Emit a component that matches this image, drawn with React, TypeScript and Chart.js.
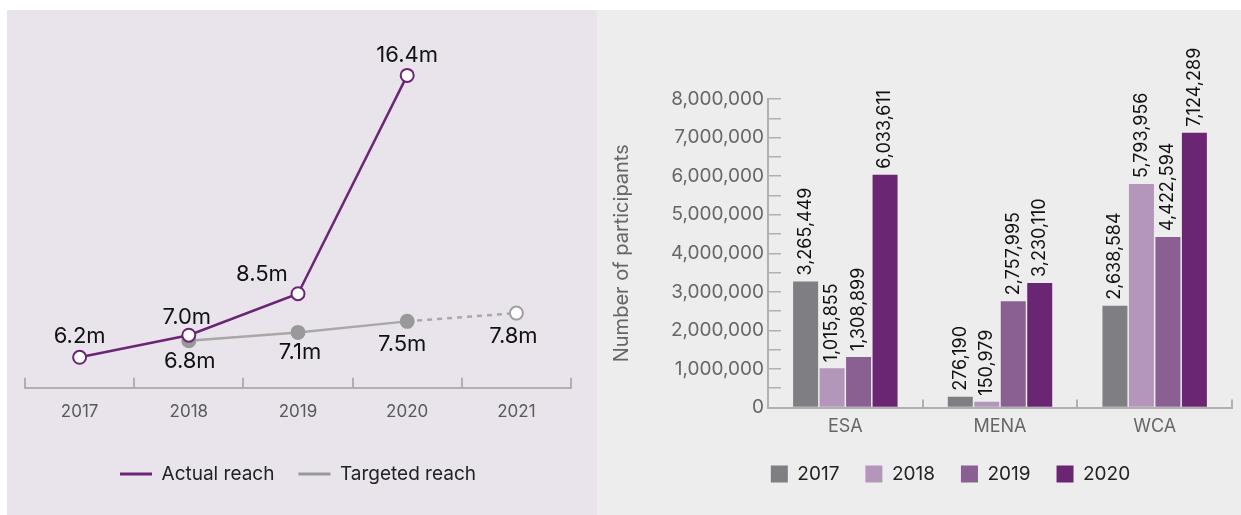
import React, { useEffect, useRef } from 'react';
import { Chart, registerables } from 'chart.js';

Chart.register(...registerables);

// ---------- Data: left chart (reach, millions) ----------
const reachYears = ['2017', '2018', '2019', '2020', '2021'];
const actualReach: (number | null)[] = [6.2, 7.0, 8.5, 16.4, null];
const targetedReach: (number | null)[] = [null, 6.8, 7.1, 7.5, 7.8];

// ---------- Data: right chart (participants by region) ----------
const regions = ['ESA', 'MENA', 'WCA'];
const barYears = ['2017', '2018', '2019', '2020'];
const participants2017 = [3265449, 276190, 2638584];
const participants2018 = [1015855, 150979, 5793956];
const participants2019 = [1308899, 2757995, 4422594];
const participants2020 = [6033611, 3230110, 7124289];
const participantsMax = 8000000;
const participantsStep = 500000;
const participantsLabelStep = 1000000;

// ---------- Styles ----------
const FONT = 'Inter, "Liberation Sans", Arial, sans-serif';
const PURPLE = '#6b2673';
const GRAY_LINE = '#a8a8a8';
const AXIS = '#b0b0b0';
const barColors = ['#7f7f83', '#b396b9', '#8a5f92', '#6b2673'];
// label offsets (px) relative to each point: [dx, dy]
const actualLabelOffsets = [[0, -21], [-2, -18], [-36, -19], [0, -20], [0, 0]];
const targetLabelOffsets = [[0, 0], [1, 21], [2, 20], [-5, 23], [-3, 23]];

Chart.defaults.font.family = FONT;

const lineLabelPlugin = {
  id: 'lineLabels',
  afterDatasetsDraw(chart: any) {
    const ctx = chart.ctx;
    ctx.save();
    ctx.font = `22px ${FONT}`;
    ctx.fillStyle = '#111';
    ctx.textAlign = 'center';
    ctx.textBaseline = 'middle';
    chart.data.datasets.forEach((ds: any, di: number) => {
      const meta = chart.getDatasetMeta(di);
      meta.data.forEach((pt: any, i: number) => {
        const v = ds.data[i];
        if (v == null) return;
        const off = di === 0 ? actualLabelOffsets[i] : targetLabelOffsets[i];
        ctx.fillText(`${Number(v).toFixed(1)}m`, pt.x + off[0], pt.y + off[1]);
      });
    });
    ctx.restore();
  },
};

const barLabelPlugin = {
  id: 'barLabels',
  afterDatasetsDraw(chart: any) {
    const ctx = chart.ctx;
    chart.data.datasets.forEach((ds: any, di: number) => {
      const meta = chart.getDatasetMeta(di);
      meta.data.forEach((bar: any, i: number) => {
        const v = ds.data[i];
        ctx.save();
        ctx.font = `18px ${FONT}`;
        ctx.fillStyle = '#111';
        ctx.textAlign = 'left';
        ctx.textBaseline = 'middle';
        ctx.translate(bar.x, bar.y - 6);
        ctx.rotate(-Math.PI / 2);
        ctx.fillText(Number(v).toLocaleString('en-US'), 0, 0);
        ctx.restore();
      });
    });
  },
};

const legendShift = (dx: number) => ({
  id: 'legendShift',
  afterLayout(chart: any) {
    if (chart.legend) {
      chart.legend.left += dx;
      chart.legend.right += dx;
    }
  },
});

function ReachChart() {
  const ref = useRef<HTMLCanvasElement | null>(null);
  useEffect(() => {
    if (!ref.current) return;
    const chart = new Chart(ref.current, {
      type: 'line',
      data: {
        labels: reachYears,
        datasets: [
          {
            label: 'Actual reach',
            data: actualReach,
            borderColor: PURPLE,
            borderWidth: 2.5,
            pointRadius: 6.5,
            pointBorderWidth: 2,
            pointBackgroundColor: '#ffffff',
            pointBorderColor: PURPLE,
            tension: 0,
            spanGaps: false,
          },
          {
            label: 'Targeted reach',
            data: targetedReach,
            borderColor: GRAY_LINE,
            borderWidth: 2.5,
            pointRadius: 6.5,
            pointBorderWidth: 2,
            pointBackgroundColor: ['#999999', '#999999', '#999999', '#999999', '#ffffff'],
            pointBorderColor: ['#999999', '#999999', '#999999', '#999999', '#a0a0a0'],
            tension: 0,
            segment: {
              borderDash: (ctx: any) => (ctx.p1DataIndex === 4 ? [5, 5] : undefined),
            },
          },
        ],
      },
      options: {
        responsive: false,
        animation: false,
        layout: { padding: { left: 18, right: 26, top: 34, bottom: 21.5 } },
        scales: {
          x: {
            offset: true,
            grid: {
              offset: true,
              drawOnChartArea: false,
              drawTicks: true,
              tickLength: -10,
              color: AXIS,
              lineWidth: 2,
            },
            border: { display: true, color: AXIS, width: 2 },
            ticks: {
              padding: 24.2,
              color: '#595959',
              font: { size: 17, family: FONT },
              maxRotation: 0,
            },
            afterFit: (s: any) => {
              s.height = 52.8;
            },
          },
          y: { display: false, min: 5.1, max: 17.5 },
        },
        plugins: {
          legend: {
            position: 'bottom',
            labels: {
              usePointStyle: true,
              pointStyle: 'line',
              pointStyleWidth: 32,
              padding: 24,
              color: '#222',
              font: { size: 19, family: FONT },
              generateLabels: (chart: any) =>
                Chart.defaults.plugins.legend.labels
                  .generateLabels(chart)
                  .map((l: any) => ({ ...l, lineWidth: 3.2, pointStyle: 'line' })),
            },
          },
          tooltip: { enabled: false },
        },
      },
      plugins: [lineLabelPlugin],
    } as any);
    return () => chart.destroy();
  }, []);
  return <canvas ref={ref} width={590} height={504} style={{ width: 590, height: 504, display: 'block' }} />;
}

function ParticipantsChart() {
  const ref = useRef<HTMLCanvasElement | null>(null);
  useEffect(() => {
    if (!ref.current) return;
    const series = [participants2017, participants2018, participants2019, participants2020];
    const chart = new Chart(ref.current, {
      type: 'bar',
      data: {
        labels: regions,
        datasets: barYears.map((y, i) => ({
          label: y,
          data: series[i],
          backgroundColor: barColors[i],
          borderWidth: 0,
          categoryPercentage: 0.685,
          barPercentage: 0.943,
        })),
      },
      options: {
        responsive: false,
        animation: false,
        layout: { padding: { left: 4, right: 9, top: 88, bottom: 21.5 } },
        scales: {
          x: {
            grid: {
              offset: true,
              drawOnChartArea: false,
              drawTicks: true,
              tickLength: -8,
              color: AXIS,
              lineWidth: 2,
            },
            border: { display: true, color: AXIS, width: 2 },
            ticks: { padding: 16.4, color: '#666', font: { size: 18, family: FONT } },
            afterFit: (s: any) => {
              s.height = 31;
            },
          },
          y: {
            min: 0,
            max: participantsMax,
            ticks: {
              stepSize: participantsStep,
              autoSkip: false,
              padding: 17,
              color: '#666',
              font: { size: 19, family: FONT },
              callback: (v: any) =>
                Number(v) % participantsLabelStep === 0 ? Number(v).toLocaleString('en-US') : '',
            },
            grid: {
              drawOnChartArea: false,
              drawTicks: true,
              tickLength: -13,
              color: AXIS,
              lineWidth: 1.5,
            },
            border: { display: true, color: AXIS, width: 2 },
            title: {
              display: true,
              text: 'Number of participants',
              color: '#666',
              font: { size: 20, family: FONT },
              padding: { top: 8.5, bottom: 0 },
            },
            afterFit: (s: any) => {
              s.width = 167;
            },
          },
        },
        plugins: {
          legend: {
            position: 'bottom',
            labels: {
              boxWidth: 17,
              boxHeight: 17,
              padding: 26,
              color: '#222',
              font: { size: 19, family: FONT },
            },
          },
          tooltip: { enabled: false },
        },
      },
      plugins: [barLabelPlugin, legendShift(34)],
    } as any);
    return () => chart.destroy();
  }, []);
  return <canvas ref={ref} width={644} height={504} style={{ width: 644, height: 504, display: 'block' }} />;
}

export default function App() {
  return (
    <div style={{ position: 'absolute', left: 0, top: 0, width: 1241, height: 515, background: '#ffffff', overflow: 'hidden' }}>
      <div style={{ position: 'absolute', left: 7, top: 10, width: 590, height: 505, background: '#e9e4ec' }} />
      <div style={{ position: 'absolute', left: 597, top: 10, width: 644, height: 505, background: '#ededed' }} />
      <div style={{ position: 'absolute', left: 7, top: 11 }}>
        <ReachChart />
      </div>
      <div style={{ position: 'absolute', left: 597, top: 11 }}>
        <ParticipantsChart />
      </div>
    </div>
  );
}
